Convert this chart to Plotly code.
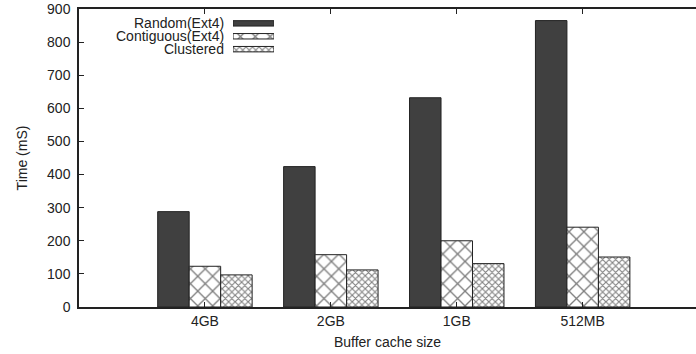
import plotly.graph_objects as go

# Benchmark data: time to read under different buffer cache sizes
cache_sizes = ["4GB", "2GB", "1GB", "512MB"]
series_names = ["Random(Ext4)", "Contiguous(Ext4)", "Clustered"]
random_ext4 = [288, 424, 632, 865]
contiguous_ext4 = [123, 158, 200, 241]
clustered = [97, 112, 131, 151]
y_ticks = [0, 100, 200, 300, 400, 500, 600, 700, 800, 900]

series_values = [random_ext4, contiguous_ext4, clustered]

FONT = "Liberation Sans"
INK = "#222222"
styles = [
    dict(color="#404040", pattern=None),
    dict(color="white", pattern=dict(shape="x", size=10.5, solidity=0.24,
                                     fgcolor="#000000", bgcolor="white")),
    dict(color="white", pattern=dict(shape="x", size=4.6, solidity=0.42,
                                     fgcolor="#000000", bgcolor="white")),
]


def bar_marker(st):
    m = dict(color=st["color"], line=dict(color=INK, width=1))
    if st["pattern"]:
        m["pattern"] = st["pattern"]
    return m


fig = go.Figure()

for name, vals, st in zip(series_names, series_values, styles):
    fig.add_trace(go.Bar(
        x=cache_sizes, y=vals, name=name, marker=bar_marker(st),
        showlegend=False, xaxis="x", yaxis="y",
    ))

# Key swatches drawn as short horizontal bars on a small hidden axis
for name, st in zip(series_names, styles):
    fig.add_trace(go.Bar(
        x=[1], y=[name], orientation="h", marker=bar_marker(st),
        showlegend=False, xaxis="x2", yaxis="y2", hoverinfo="skip",
        width=0.42,
    ))

# Key labels, right-aligned to the left of each swatch
for name in series_names:
    fig.add_annotation(
        x=0.2365, xref="paper", xanchor="right",
        y=name, yref="y2", yanchor="middle",
        text=name, showarrow=False, borderpad=0,
        font=dict(family=FONT, size=14, color=INK),
    )

fig.update_layout(
    width=696, height=354,
    margin=dict(l=79, r=0, t=9, b=47),
    paper_bgcolor="white", plot_bgcolor="white",
    font=dict(family=FONT, size=14, color=INK),
    barmode="group", bargap=0.25, bargroupgap=0,
    xaxis=dict(
        domain=[0, 1], range=[-1, 3.9],
        showline=True, linecolor=INK, linewidth=1.5, mirror="ticks",
        ticks="inside", ticklen=5, tickcolor=INK,
        showgrid=False, zeroline=False,
        tickfont=dict(family=FONT, size=14, color=INK),
        title=dict(text="Buffer cache size", standoff=10,
                   font=dict(family=FONT, size=14, color=INK)),
    ),
    yaxis=dict(
        range=[0, 900], tickvals=y_ticks,
        showline=True, linecolor=INK, linewidth=1.5, mirror=False,
        ticks="inside", ticklen=5, tickcolor=INK,
        showgrid=False, zeroline=False,
        ticklabelstandoff=4, ticklabeloverflow="allow",
        tickfont=dict(family=FONT, size=14, color=INK),
        title=dict(text="Time (mS)", standoff=16,
                   font=dict(family=FONT, size=14, color=INK)),
    ),
    xaxis2=dict(
        domain=[0.2496, 0.316], range=[0, 1], anchor="y2",
        visible=False, fixedrange=True,
    ),
    yaxis2=dict(
        domain=[0.835, 0.982], anchor="x2",
        autorange="reversed",
        visible=False,
        categoryorder="array", categoryarray=series_names,
    ),
)

fig.write_html("out.html")
